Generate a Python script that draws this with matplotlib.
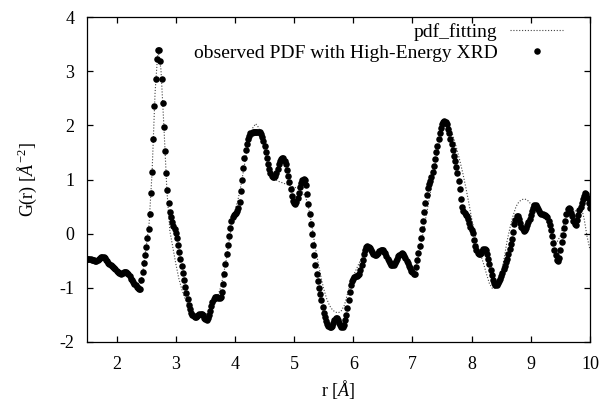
import matplotlib
matplotlib.use("Agg")
import matplotlib.pyplot as plt
import numpy as np

plt.rcParams["font.family"] = "Liberation Serif"
plt.rcParams["mathtext.fontset"] = "custom"
plt.rcParams["mathtext.rm"] = "Liberation Serif"
plt.rcParams["mathtext.it"] = "Liberation Serif:italic"
plt.rcParams["axes.unicode_minus"] = False

# observed G(r), one value every 0.02 A from 1.50 to 10.00
g_obs = [
    -0.47, -0.47, -0.47, -0.47, -0.48, -0.48, -0.49, -0.50, -0.50, -0.49,
    -0.47, -0.45, -0.43, -0.43, -0.43, -0.45, -0.48, -0.51, -0.54, -0.56,
    -0.58, -0.60, -0.62, -0.64, -0.66, -0.68, -0.70, -0.72, -0.73, -0.74,
    -0.73, -0.71, -0.70, -0.70, -0.72, -0.75, -0.79, -0.83, -0.86, -0.89,
    -0.92, -0.95, -0.98, -1.00, -1.02, -1.02, -0.86, -0.71, -0.55, -0.40,
    -0.25, -0.08, 0.08, 0.37, 0.75, 1.14, 1.75, 2.35, 2.86, 3.22,
    3.40, 3.39, 3.19, 2.86, 2.42, 1.97, 1.52, 1.12, 0.80, 0.56,
    0.40, 0.30, 0.22, 0.15, 0.08, 0.02, -0.08, -0.20, -0.33, -0.47,
    -0.60, -0.73, -0.86, -0.98, -1.10, -1.21, -1.31, -1.39, -1.46, -1.50,
    -1.52, -1.53, -1.53, -1.52, -1.50, -1.49, -1.48, -1.48, -1.51, -1.55,
    -1.58, -1.59, -1.56, -1.50, -1.43, -1.34, -1.26, -1.20, -1.17, -1.16,
    -1.16, -1.18, -1.19, -1.17, -1.08, -0.92, -0.74, -0.56, -0.38, -0.20,
    -0.04, 0.11, 0.23, 0.30, 0.34, 0.37, 0.39, 0.42, 0.47, 0.58,
    0.78, 1.00, 1.21, 1.40, 1.55, 1.66, 1.75, 1.81, 1.85, 1.86,
    1.87, 1.87, 1.88, 1.88, 1.88, 1.88, 1.87, 1.84, 1.79, 1.71,
    1.61, 1.50, 1.39, 1.28, 1.19, 1.12, 1.07, 1.05, 1.05, 1.07,
    1.12, 1.20, 1.28, 1.34, 1.38, 1.40, 1.39, 1.35, 1.28, 1.18,
    1.07, 0.95, 0.82, 0.70, 0.61, 0.56, 0.55, 0.58, 0.66, 0.76,
    0.86, 0.94, 0.99, 1.01, 0.99, 0.90, 0.74, 0.55, 0.36, 0.18,
    0.00, -0.20, -0.40, -0.58, -0.74, -0.88, -1.00, -1.11, -1.23, -1.36,
    -1.46, -1.54, -1.61, -1.66, -1.70, -1.72, -1.72, -1.70, -1.65, -1.59,
    -1.56, -1.56, -1.59, -1.64, -1.69, -1.72, -1.72, -1.68, -1.60, -1.50,
    -1.37, -1.23, -1.07, -0.95, -0.87, -0.83, -0.80, -0.79, -0.79, -0.77,
    -0.75, -0.67, -0.58, -0.48, -0.38, -0.30, -0.25, -0.23, -0.24, -0.27,
    -0.30, -0.34, -0.37, -0.39, -0.39, -0.37, -0.35, -0.32, -0.30, -0.30,
    -0.31, -0.33, -0.36, -0.41, -0.46, -0.51, -0.55, -0.57, -0.58, -0.57,
    -0.55, -0.51, -0.46, -0.42, -0.39, -0.37, -0.36, -0.38, -0.41, -0.45,
    -0.50, -0.55, -0.60, -0.64, -0.68, -0.71, -0.74, -0.75, -0.62, -0.48,
    -0.35, -0.22, -0.08, 0.08, 0.24, 0.40, 0.56, 0.72, 0.84, 0.91,
    0.97, 1.04, 1.13, 1.25, 1.37, 1.50, 1.62, 1.74, 1.86, 1.96,
    2.03, 2.07, 2.08, 2.07, 2.03, 1.94, 1.85, 1.75, 1.65, 1.55,
    1.44, 1.34, 1.24, 1.12, 0.98, 0.82, 0.64, 0.50, 0.42, 0.38,
    0.35, 0.32, 0.27, 0.20, 0.13, 0.07, 0.01, -0.12, -0.22, -0.31,
    -0.35, -0.37, -0.38, -0.36, -0.32, -0.29, -0.28, -0.30, -0.37, -0.46,
    -0.56, -0.67, -0.77, -0.85, -0.91, -0.94, -0.94, -0.91, -0.87, -0.83,
    -0.78, -0.72, -0.66, -0.60, -0.53, -0.46, -0.38, -0.29, -0.19, -0.09,
    0.04, 0.17, 0.26, 0.32, 0.32, 0.27, 0.20, 0.13, 0.08, 0.05,
    0.07, 0.10, 0.16, 0.22, 0.28, 0.34, 0.42, 0.48, 0.53, 0.53,
    0.50, 0.46, 0.42, 0.39, 0.37, 0.36, 0.35, 0.34, 0.33, 0.30,
    0.24, 0.16, 0.07, -0.04, -0.17, -0.30, -0.40, -0.49, -0.51, -0.44,
    -0.31, -0.16, -0.03, 0.10, 0.24, 0.36, 0.45, 0.48, 0.45, 0.39,
    0.32, 0.24, 0.17, 0.16, 0.25, 0.34, 0.43, 0.50, 0.57, 0.64,
    0.70, 0.75, 0.73, 0.65, 0.56, 0.48,
]

# fitted G(r), one value every 0.05 A from 1.50 to 10.00
g_fit = [
    -0.47, -0.48, -0.49, -0.50, -0.49, -0.48, -0.50, -0.54, -0.58, -0.62,
    -0.67, -0.71, -0.73, -0.73, -0.76, -0.83, -0.90, -0.96, -0.98, -0.65,
    -0.25, 0.20, 1.14, 2.60, 3.40, 3.03, 1.97, 0.80, 0.05, -0.25,
    -0.55, -0.82, -1.02, -1.18, -1.30, -1.40, -1.46, -1.50, -1.52, -1.52,
    -1.50, -1.46, -1.39, -1.30, -1.18, -1.02, -0.80, -0.50, -0.14, 0.18,
    0.42, 0.62, 0.88, 1.20, 1.52, 1.78, 1.95, 2.03, 1.96, 1.78,
    1.52, 1.28, 1.12, 1.03, 0.99, 0.96, 0.94, 0.92, 0.90, 0.88,
    0.86, 0.84, 0.82, 0.76, 0.66, 0.45, 0.15, -0.20, -0.50, -0.78,
    -1.02, -1.20, -1.33, -1.41, -1.45, -1.46, -1.42, -1.32, -1.12, -0.92,
    -0.78, -0.66, -0.54, -0.43, -0.33, -0.28, -0.30, -0.35, -0.37, -0.35,
    -0.36, -0.42, -0.50, -0.53, -0.50, -0.44, -0.40, -0.42, -0.50, -0.60,
    -0.66, -0.62, -0.44, -0.16, 0.14, 0.44, 0.74, 1.05, 1.35, 1.65,
    1.90, 2.04, 2.05, 1.92, 1.75, 1.56, 1.35, 1.12, 0.86, 0.58,
    0.28, 0.02, -0.20, -0.38, -0.55, -0.74, -0.92, -1.01, -1.01, -0.93,
    -0.72, -0.45, -0.13, 0.12, 0.33, 0.50, 0.59, 0.63, 0.64, 0.61,
    0.55, 0.50, 0.45, 0.40, 0.34, 0.26, 0.15, 0.02, -0.13, -0.14,
    -0.04, 0.15, 0.35, 0.45, 0.43, 0.42, 0.45, 0.50, 0.28, -0.05,
    -0.30,
]

r_obs = np.linspace(1.5, 10.0, len(g_obs))
r_fit = np.linspace(1.5, 10.0, len(g_fit))

fs = 13

fig = plt.figure(figsize=(6.01, 4.05), dpi=100)
ax = fig.add_axes([87 / 601, 63 / 405, 503 / 601, 325 / 405])

ax.plot(r_fit, g_fit, color="#444444", lw=0.8, ls=(0, (1, 1.6)),
        label="pdf_fitting")
ax.plot(r_obs, g_obs, ls="none", marker="o", ms=4.7, mew=0, color="black",
        label="observed PDF with High-Energy XRD")

ax.set_xlim(1.5, 10)
ax.set_ylim(-2, 4)
ax.set_xticks(range(2, 11))
ax.set_yticks(range(-2, 5))
ax.tick_params(direction="in", top=True, right=True, length=4.5, width=0.9,
               labelsize=fs)
ax.tick_params(axis="x", pad=10)
ax.tick_params(axis="y", pad=9)
for s in ax.spines.values():
    s.set_linewidth(0.9)

ax.set_xlabel(r"r [$\mathit{Å}$]", fontsize=fs, labelpad=4)
ax.set_ylabel(r"G(r) [$\mathit{Å}^{-2}$]", fontsize=fs, labelpad=15)

ax.legend(loc="upper right", bbox_to_anchor=(0.946, 0.982), frameon=False,
          markerfirst=False, handlelength=2.7, handletextpad=0.67,
          labelspacing=0.18, borderpad=0, borderaxespad=0, fontsize=14,
          numpoints=1)

fig.savefig("out.png", dpi=100)
